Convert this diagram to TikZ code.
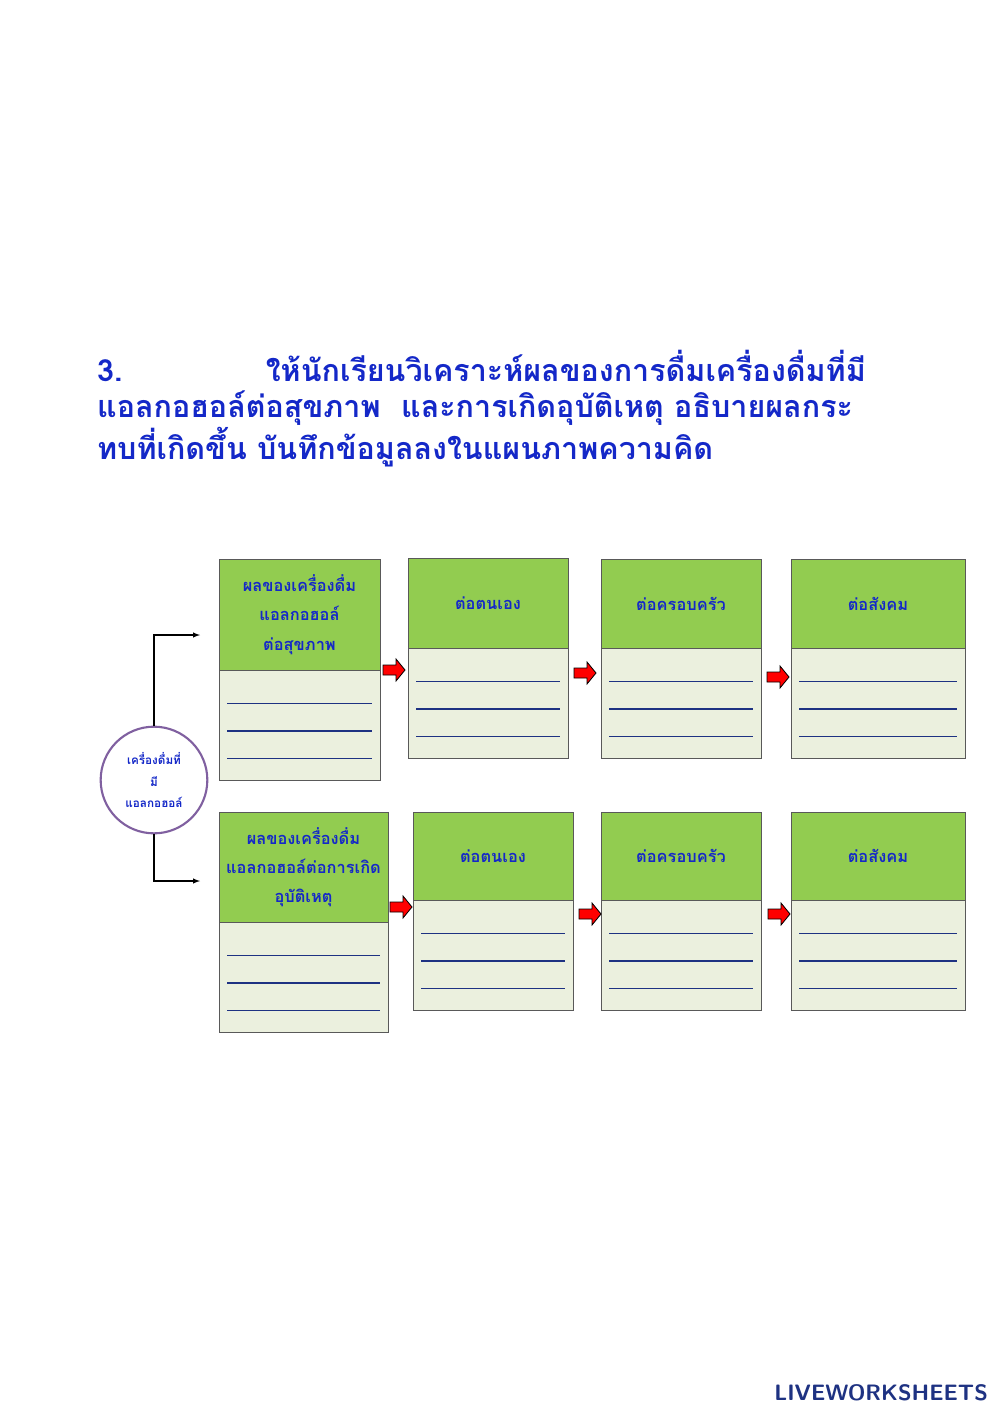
\documentclass[tikz,border=0pt]{standalone}
\usepackage{fontspec}
\newfontfamily\thaifont[Script=Thai]{Loma}
\setmainfont{Liberation Serif}
\definecolor{tblue}{RGB}{20,40,200}
\definecolor{gr}{RGB}{146,204,80}
\definecolor{lt}{RGB}{235,240,222}
\definecolor{ln}{RGB}{30,50,130}
\definecolor{circ}{RGB}{128,96,160}
\begin{document}
\begin{tikzpicture}[x=0.03cm,y=-0.03cm,
 hd/.style={font=\thaifont\bfseries\fontsize{14}{25}\selectfont, text=tblue, align=center},
 ttl/.style={anchor=west, font=\thaifont\bfseries\fontsize{26}{28}\selectfont, text=tblue},
 rarrow/.style={draw=black, fill=red, line width=0.7pt, line join=miter},
 blk/.style={draw=ln, line width=0.9pt}]
\useasboundingbox (0,0) rectangle (1000,1414);
\fill[white] (0,0) rectangle (1000,1414);
\node[ttl] (t1) at (93,366) {3.\hspace{4.3cm}ให้นักเรียนวิเคราะห์ผลของการดื่มเครื่องดื่มที่มี};
\node[ttl] (t2) at (93,408) {แอลกอฮอล์ต่อสุขภาพ\ \ และการเกิดอุบัติเหตุ อธิบายผลกระ};
\node[ttl] (t3) at (93,447) {ทบที่เกิดขึ้น บันทึกข้อมูลลงในแผนภาพความคิด};
\foreach \n/\xa/\xb/\ya/\ym/\yb in {a1/219/380/559/670/780, a2/408/568/558/648/758, a3/601/761/559/648/758, a4/791/965/559/648/758,
 b1/219/388/812/922/1032, b2/413/573/812/900/1010, b3/601/761/812/900/1010, b4/791/965/812/900/1010}{
 \fill[gr] (\xa,\ya) rectangle (\xb,\ym);
 \fill[lt] (\xa,\ym) rectangle (\xb,\yb);
 \draw[gray!70!black, line width=0.8pt] (\xa,\ya) rectangle (\xb,\yb);
 \draw[gray!70!black, line width=0.8pt] (\xa,\ym) -- (\xb,\ym);
 \coordinate (\n) at ({(\xa+\xb)/2},{(\ya+\ym)/2});
 \pgfmathsetmacro\gap{(\yb-\ym)/4}
 \foreach \k in {1,2,3}{\draw[blk] (\xa+8,\ym+\k*\gap+6) -- (\xb-8,\ym+\k*\gap+6);}
}
\node[hd] at (a1) {ผลของเครื่องดื่ม\\แอลกอฮอล์\\ต่อสุขภาพ};
\node[hd] at (a2) {ต่อตนเอง};
\node[hd] at (a3) {ต่อครอบครัว};
\node[hd] at (a4) {ต่อสังคม};
\node[hd] at (b1) {ผลของเครื่องดื่ม\\แอลกอฮอล์ต่อการเกิด\\อุบัติเหตุ};
\node[hd] at (b2) {ต่อตนเอง};
\node[hd] at (b3) {ต่อครอบครัว};
\node[hd] at (b4) {ต่อสังคม};
\foreach \n/\cx/\cy in {r1/394/670, r2/585/673, r3/778/677, r4/401/907, r5/590/914, r6/779/914}{
 \coordinate (\n) at (\cx,\cy);
 \draw[rarrow] ([shift={(-11,-5)}]\n) -- ([shift={(2,-5)}]\n) -- ([shift={(2,-11)}]\n) -- ([shift={(11,0)}]\n)
  -- ([shift={(2,11)}]\n) -- ([shift={(2,5)}]\n) -- ([shift={(-11,5)}]\n) -- cycle;
}
\node[draw=circ, line width=1.8pt, circle, minimum size=3.2cm, font=\thaifont\bfseries\fontsize{10}{18}\selectfont, text=tblue, align=center] (c) at (154,780) {เครื่องดื่มที่\\มี\\แอลกอฮอล์};
\coordinate (e1) at (200,635);
\coordinate (e2) at (200,881);
\draw[-latex, line width=1pt] (c.north) |- (e1);
\draw[-latex, line width=1pt] (c.south) |- (e2);
\node[anchor=east, font=\sffamily\bfseries\fontsize{19}{20}\selectfont, text=ln] (logo) at (992,1393) {LIVEWORKSHEETS};
\end{tikzpicture}
\end{document}
